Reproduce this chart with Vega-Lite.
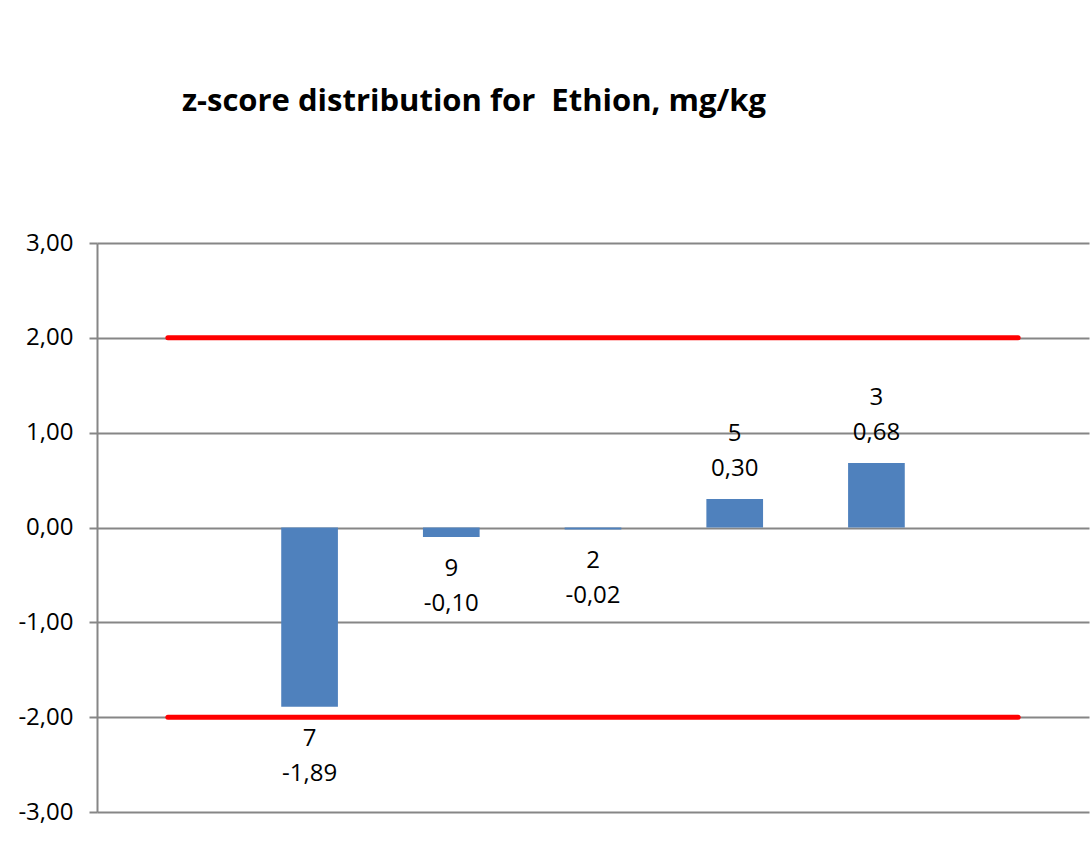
{
  "$schema": "https://vega.github.io/schema/vega-lite/v6.json",
  "width": 992,
  "height": 569,
  "autosize": {"type": "none"},
  "padding": {"left": 97, "top": 243, "right": 3, "bottom": 33},
  "background": "white",
  "config": {
    "view": {"stroke": null},
    "font": "Open Sans",
    "locale": {"number": {"decimal": ",", "thousands": " ", "grouping": [3], "currency": ["", ""], "minus": "-"}}
  },
  "title": {
    "text": "z-score distribution for\u00a0 Ethion, mg/kg",
    "anchor": "start",
    "dx": 164,
    "offset": 113,
    "fontSize": 31,
    "fontWeight": "bold",
    "font": "Open Sans",
    "color": "black"
  },
  "datasets": {
    "bars": [
      {"lab": "7", "z": -1.89},
      {"lab": "9", "z": -0.10},
      {"lab": "2", "z": -0.02},
      {"lab": "5", "z": 0.30},
      {"lab": "3", "z": 0.68}
    ],
    "limits": [
      {"lab": "L", "z": 2, "g": "upper"},
      {"lab": "R", "z": 2, "g": "upper"},
      {"lab": "L", "z": -2, "g": "lower"},
      {"lab": "R", "z": -2, "g": "lower"}
    ]
  },
  "layer": [
    {
      "data": {"name": "bars"},
      "mark": {"type": "bar", "color": "#4F81BD"},
      "encoding": {
        "x": {
          "field": "lab", "type": "nominal",
          "scale": {"domain": ["L", "7", "9", "2", "5", "3", "R"], "paddingInner": 0.6, "paddingOuter": 0.3},
          "axis": null
        },
        "y": {
          "field": "z", "type": "quantitative",
          "scale": {"domain": [-3, 3], "nice": false, "zero": false},
          "axis": {
            "values": [-3, -2, -1, 0, 1, 2, 3],
            "format": ".2f",
            "title": null,
            "grid": true,
            "gridColor": "#868686",
            "gridWidth": 2,
            "domainColor": "#868686",
            "domainWidth": 2,
            "tickColor": "#868686",
            "tickWidth": 2,
            "tickSize": 8,
            "labelFontSize": 24,
            "labelColor": "black",
            "labelPadding": 16,
            "labelFont": "Open Sans"
          }
        }
      }
    },
    {
      "data": {"name": "limits"},
      "mark": {"type": "line", "color": "#FF0000", "strokeWidth": 5, "strokeCap": "round"},
      "encoding": {
        "x": {"field": "lab", "type": "nominal"},
        "y": {"field": "z", "type": "quantitative"},
        "detail": {"field": "g"}
      }
    },
    {
      "data": {"name": "bars"},
      "transform": [{"filter": "datum.z >= 0"}],
      "mark": {"type": "text", "fontSize": 24, "baseline": "middle", "dy": -65, "color": "black"},
      "encoding": {
        "x": {"field": "lab", "type": "nominal"},
        "y": {"field": "z", "type": "quantitative"},
        "text": {"field": "lab"}
      }
    },
    {
      "data": {"name": "bars"},
      "transform": [{"filter": "datum.z >= 0"}],
      "mark": {"type": "text", "fontSize": 24, "baseline": "middle", "dy": -30, "color": "black"},
      "encoding": {
        "x": {"field": "lab", "type": "nominal"},
        "y": {"field": "z", "type": "quantitative"},
        "text": {"field": "z", "type": "quantitative", "format": ".2f"}
      }
    },
    {
      "data": {"name": "bars"},
      "transform": [{"filter": "datum.z < 0"}],
      "mark": {"type": "text", "fontSize": 24, "baseline": "middle", "dy": 32, "color": "black"},
      "encoding": {
        "x": {"field": "lab", "type": "nominal"},
        "y": {"field": "z", "type": "quantitative"},
        "text": {"field": "lab"}
      }
    },
    {
      "data": {"name": "bars"},
      "transform": [{"filter": "datum.z < 0"}],
      "mark": {"type": "text", "fontSize": 24, "baseline": "middle", "dy": 67, "color": "black"},
      "encoding": {
        "x": {"field": "lab", "type": "nominal"},
        "y": {"field": "z", "type": "quantitative"},
        "text": {"field": "z", "type": "quantitative", "format": ".2f"}
      }
    }
  ]
}
